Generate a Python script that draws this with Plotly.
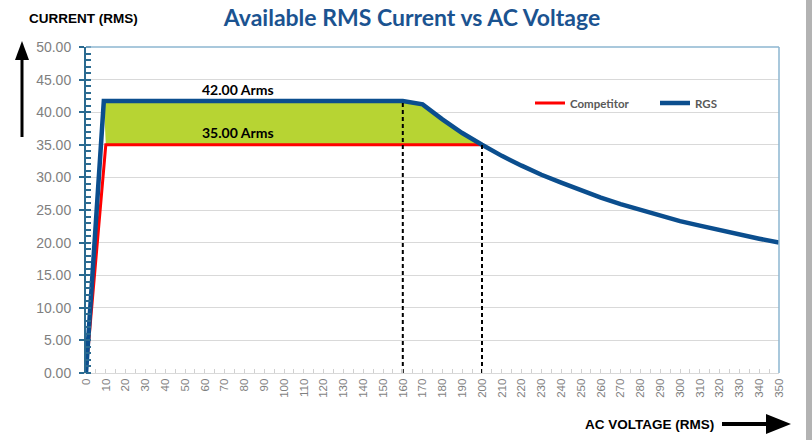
import plotly.graph_objects as go

# ---- data ----
rgs_voltage = [0, 9, 160, 170, 180, 190, 200, 210, 220, 230, 240, 250, 260, 270,
               280, 290, 300, 310, 320, 330, 340, 350]
rgs_current = [0.0, 41.7, 41.7, 41.2, 38.9, 36.8, 35.0, 33.3, 31.8, 30.4, 29.2, 28.0,
               26.9, 25.9, 25.0, 24.1, 23.3, 22.6, 21.9, 21.2, 20.6, 20.0]
comp_voltage = [0, 10, 200]
comp_current = [0.0, 35.0, 35.0]
marker_voltages = [160, 200]
marker_currents = [41.7, 35.0]
label_rgs = "42.00 Arms"
label_comp = "35.00 Arms"
y_ticks = [0, 5, 10, 15, 20, 25, 30, 35, 40, 45, 50]

# ---- pixel helpers (plot area 86..779 x, 47..373 y) ----
L, R, T, B = 86, 779, 47, 373
W, H = 812, 440


def px(x):
    return (x - L) / (R - L)


def py(y):
    return (B - y) / (B - T)


BLUE = "#0b4e8e"
RED = "#ff0000"
FILL = "#b7d433"

fig = go.Figure()

# green fill between RGS and competitor (RGS from 9V to 200V, competitor back)
i0 = rgs_voltage.index(9)
i1 = rgs_voltage.index(200)
fx = rgs_voltage[i0:i1 + 1] + comp_voltage[::-1][:-1]
fy = rgs_current[i0:i1 + 1] + comp_current[::-1][:-1]
fig.add_trace(go.Scatter(x=fx, y=fy, fill="toself", fillcolor=FILL, mode="none",
                         showlegend=False, hoverinfo="skip"))

fig.add_trace(go.Scatter(x=comp_voltage, y=comp_current, mode="lines", name="Competitor",
                         line=dict(color=RED, width=3)))
fig.add_trace(go.Scatter(x=rgs_voltage, y=rgs_current, mode="lines", name="RGS",
                         line=dict(color=BLUE, width=4.5)))

for v, c in zip(marker_voltages, marker_currents):
    fig.add_trace(go.Scatter(x=[v, v], y=[0, c], mode="lines", showlegend=False,
                             line=dict(color="black", width=2, dash="4px,3px"),
                             hoverinfo="skip"))

annotations = [
    dict(x=77, y=marker_currents[0], xref="x", yref="y", text=label_rgs, showarrow=False,
         yshift=12, font=dict(family="Lato", size=14, color="black", weight="bold")),
    dict(x=77, y=comp_current[-1], xref="x", yref="y", text=label_comp, showarrow=False,
         yshift=12, font=dict(family="Lato", size=14, color="black", weight="bold")),
    dict(x=px(83), y=py(18), xref="paper", yref="paper", text="CURRENT (RMS)",
         xanchor="center", yanchor="middle",
         showarrow=False, font=dict(family="Liberation Sans", size=13.5, color="black",
                                    weight="bold")),
    dict(x=px(649), y=py(424), xref="paper", yref="paper", text="AC VOLTAGE (RMS)",
         xanchor="center", yanchor="middle",
         showarrow=False, font=dict(family="Liberation Sans", size=13.5, color="black",
                                    weight="bold")),
    # grey shadow band at the right edge of the picture
    dict(x=px(806), y=py(220), xref="paper", yref="paper", text=" ", showarrow=False,
         xanchor="left", yanchor="middle", width=6, height=440, borderpad=0, borderwidth=0,
         bgcolor="#b3b3b3", font=dict(size=2)),
]

shapes = [
    # top and right borders of plot area
    dict(type="line", xref="paper", yref="paper", x0=0, x1=1, y0=1, y1=1,
         line=dict(color="#8db6d0", width=1.5)),
    dict(type="line", xref="paper", yref="paper", x0=1, x1=1, y0=0, y1=1,
         line=dict(color="#8db6d0", width=1.5)),
    # up arrow
    dict(type="line", xref="paper", yref="paper", x0=px(22), x1=px(22), y0=py(137), y1=py(56),
         line=dict(color="black", width=3)),
    dict(type="path", xref="paper", yref="paper",
         path=f"M {px(22)} {py(41)} L {px(15)} {py(60)} L {px(29)} {py(60)} Z",
         fillcolor="black", line=dict(color="black", width=0)),
    # right arrow
    dict(type="line", xref="paper", yref="paper", x0=px(722), x1=px(772), y0=py(424), y1=py(424),
         line=dict(color="black", width=4)),
    dict(type="path", xref="paper", yref="paper",
         path=f"M {px(791)} {py(424)} L {px(766)} {py(414)} L {px(766)} {py(434)} Z",
         fillcolor="black", line=dict(color="black", width=0)),
]

fig.update_layout(
    width=W, height=H,
    margin=dict(l=L, r=W - R, t=T, b=H - B, autoexpand=False),
    paper_bgcolor="white", plot_bgcolor="white",
    title=dict(text="Available RMS Current vs AC Voltage", x=412 / W, xref="container",
               xanchor="center", y=1 - 18 / H, yref="container", yanchor="middle",
               font=dict(family="Lato", size=23, color="#1b5390", weight="bold")),
    legend=dict(orientation="h", x=px(530), y=py(103), xanchor="left", yanchor="middle",
                bgcolor="rgba(0,0,0,0)", entrywidth=80,
                font=dict(family="Lato", size=11.5, color="#595959", weight="bold")),
    annotations=annotations,
    shapes=shapes,
    xaxis=dict(range=[0, 350], dtick=10, tick0=0, tickangle=-90, showgrid=False,
               automargin=False,
               zeroline=False, showline=True, linecolor="#d9d9d9", linewidth=1,
               ticks="inside", ticklen=4, tickcolor="#d0d0d0",
               minor=dict(dtick=5, ticks="inside", ticklen=4, tickcolor="#d0d0d0"),
               tickfont=dict(family="Liberation Sans", size=11.5, color="#7f7f7f")),
    yaxis=dict(range=[0, 50], tickvals=y_ticks, tickformat=".2f", showgrid=True,
               automargin=False, ticklabelstandoff=5,
               gridcolor="#d9d9d9", gridwidth=1, zeroline=False, showline=True,
               linecolor="#2a6a90", linewidth=2, ticks="outside", ticklen=5,
               tickcolor="#2a6a90", tickwidth=2,
               minor=dict(dtick=1, ticks="inside", ticklen=5, tickcolor="#2a6a90",
                          tickwidth=1.5, showgrid=False),
               tickfont=dict(family="Liberation Sans", size=14, color="#7f7f7f")),
)

fig.write_html("out.html", post_script="document.body.style.margin='0';",
               config={"displayModeBar": False})
